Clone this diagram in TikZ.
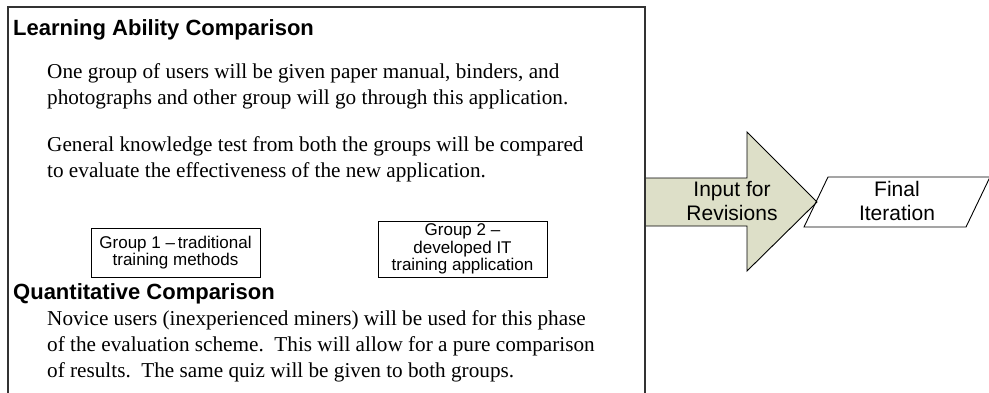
\documentclass[tikz,border=0pt]{standalone}
\usepackage{fontspec}
\setmainfont{Liberation Serif}
\newfontfamily\arialf[Ligatures=TeX]{Liberation Sans}
\definecolor{arrowfill}{RGB}{221,223,200}
\begin{document}
\begin{tikzpicture}[x=1pt,y=-1pt,
  head/.style={anchor=base west, font=\arialf\bfseries\fontsize{22}{25}\selectfont, inner sep=0},
  para/.style={anchor=base west, font=\fontsize{21.2}{26}\selectfont, inner sep=0},
  grp/.style={draw=black, line width=0.8pt, align=center, font=\arialf\fontsize{17}{17.5}\selectfont, inner sep=0},
  lbl/.style={align=center, font=\arialf\fontsize{21}{24}\selectfont, inner sep=0},
  outline/.style={draw=black, line width=0.9pt, line join=miter}]
\clip (0,0) rectangle (989,392);
% arrow
\fill[arrowfill] (645,178) -- (747,178) -- (747,132) -- (817,202) -- (747,271) -- (747,226) -- (645,226) -- cycle;
\draw[outline] (645,178) -- (747,178) -- (747,132) -- (817,202) -- (747,271) -- (747,226) -- (645,226);
% main box
\draw[draw=black!80, line width=1.1pt] (8,400) -- (8,7) -- (645,7) -- (645,400);
% parallelogram
\draw[outline] (828,177) -- (990,177) -- (966,227) -- (804,227) -- cycle;
\node[head] (h1) at (13,35) {Learning Ability Comparison};
\node[para] (p1a) at (47,78) {One group of users will be given paper manual, binders, and};
\node[para] (p1b) at (47,104) {photographs and other group will go through this application.};
\node[para] (p2a) at (47,151) {General knowledge test from both the groups will be compared};
\node[para] (p2b) at (47,177) {to evaluate the effectiveness of the new application.};
\node[grp, minimum width=169pt, minimum height=49pt] (g1) at (175.5,252.5) {Group 1 --\,traditional\\training methods};
\node[grp, minimum width=169pt, minimum height=56pt] (g2) at (462.5,249) {Group 2 --\\developed IT\\training application};
\node[head] (h2) at (13,299) {Quantitative Comparison};
\node[para] (p3a) at (47,325) {Novice users (inexperienced miners) will be used for this phase};
\node[para] (p3b) at (47,351) {of the evaluation scheme.\ \ This will allow for a pure comparison};
\node[para] (p3c) at (47,377) {of results.\ \ The same quiz will be given to both groups.};
\node[lbl] (inp) at (732,201) {Input for\\Revisions};
\node[lbl] (fin) at (897,201) {Final\\Iteration};
\end{tikzpicture}
\end{document}
